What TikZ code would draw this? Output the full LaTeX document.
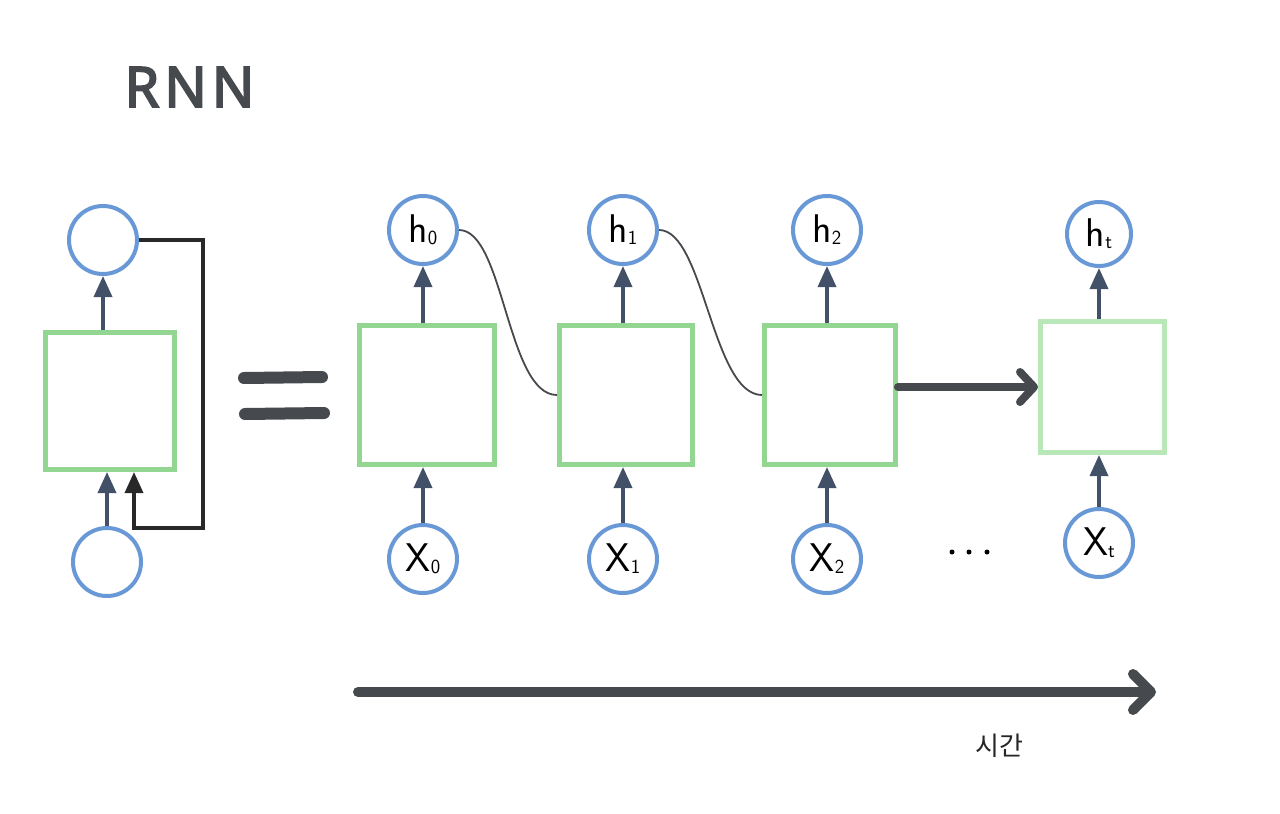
\documentclass[tikz,border=0pt]{standalone}
\usepackage{fontspec}
\setmainfont{Noto Sans}
\newfontfamily\titlefont{Noto Sans}[FakeBold=3]
\newfontfamily\kofont{Noto Sans CJK KR}
\usetikzlibrary{arrows.meta,calc}
\definecolor{boxgreen}{RGB}{146,214,146}
\definecolor{boxlight}{RGB}{184,232,184}
\definecolor{circblue}{RGB}{104,152,214}
\definecolor{arrslate}{RGB}{66,80,104}
\definecolor{inkgray}{RGB}{70,73,78}
\definecolor{fbblack}{RGB}{40,40,40}
\tikzset{
  cell/.style={draw=boxgreen, line width=5pt, rectangle, inner sep=0pt, fill=white},
  unit/.style={draw=circblue, line width=4pt, circle, inner sep=0pt, minimum size=68pt, fill=white,
     font=\sffamily\fontsize{40}{40}\selectfont, text=black},
  uparrow/.style={draw=arrslate, line width=3.5pt, -{Triangle[length=21pt,width=18pt]}},
  fbarrow/.style={draw=fbblack, line width=3.5pt, -{Triangle[length=21pt,width=18pt]}},
  curveline/.style={draw=inkgray, line width=1.8pt},
  eqbar/.style={draw=inkgray, line width=12pt, line cap=round},
  bigarrow/.style={draw=inkgray, line width=8pt, line cap=round, -{Straight Barb[length=14pt,width=30pt,round]}},
  timearrow/.style={draw=inkgray, line width=10pt, line cap=round, -{Straight Barb[length=18pt,width=36pt,round]}},
}
\newcommand{\sublab}[2]{#1\kern0pt\raisebox{-2pt}{\fontsize{20}{20}\selectfont #2}}
\begin{document}
\begin{tikzpicture}[x=1pt,y=-1pt]
\useasboundingbox[fill=white] (0,0) rectangle (1280,814);

% title
\node[anchor=base, text=inkgray, font=\titlefont\fontsize{56}{56}\selectfont, inner sep=0pt] (title) at (189.5,107) {R\kern5pt N\kern5pt N};

% left folded RNN
\node[cell, minimum width=129pt, minimum height=137pt] (L) at (110,401) {};
\node[unit] (Lh) at (103,240) {};
\node[unit] (Lx) at (107,562) {};
\draw[uparrow] (Lh.south |- L.north) -- (Lh.south);
\draw[uparrow] (Lx.north) -- (Lx.north |- L.south);
\coordinate (fbR) at (203,528);
\coordinate (fbIn) at (134,528);
\draw[fbarrow] (Lh.east) -| (fbR) -| (fbIn |- L.south);

% equals sign
\coordinate (e1a) at (244,378); \coordinate (e1b) at (322,377);
\coordinate (e2a) at (245,414); \coordinate (e2b) at (324,413);
\draw[eqbar] (e1a) -- (e1b);
\draw[eqbar] (e2a) -- (e2b);

% unrolled cells
\node[cell, minimum width=135pt, minimum height=139pt] (b0) at (427,395) {};
\node[cell, minimum width=133pt, minimum height=139pt] (b1) at (626,395) {};
\node[cell, minimum width=131pt, minimum height=139pt] (b2) at (830,395) {};
\node[cell, draw=boxlight, minimum width=124pt, minimum height=131pt] (bt) at (1102.5,387) {};

\node[unit] (h0) at (423,230) {\sublab{h}{0}};
\node[unit] (h1) at (623,230) {\sublab{h}{1}};
\node[unit] (h2) at (827,230) {\sublab{h}{2}};
\node[unit, minimum size=64pt] (ht) at (1099,234) {\sublab{h}{t}};
\node[unit] (x0) at (423,559) {\sublab{X}{0}};
\node[unit] (x1) at (623,559) {\sublab{X}{1}};
\node[unit] (x2) at (827,559) {\sublab{X}{2}};
\node[unit] (xt) at (1099,543) {\sublab{X}{t}};

\foreach \h/\b/\x in {h0/b0/x0, h1/b1/x1, h2/b2/x2, ht/bt/xt}{
  \draw[uparrow] (\h.south |- \b.north) -- (\h.south);
  \draw[uparrow] (\x.north) -- (\x.north |- \b.south);
}

% recurrent connections
\draw[curveline] (h0.east) .. controls +(45,0) and +(-50,0) .. (b1.west);
\draw[curveline] (h1.east) .. controls +(45,0) and +(-50,0) .. (b2.west);
\draw[bigarrow] (b2.east |- bt.west) -- (bt.west);

% dots
\node[circle, fill=black, inner sep=0pt, minimum size=5pt] (d1) at (952,552) {};
\node[circle, fill=black, inner sep=0pt, minimum size=5pt] (d2) at (969,552) {};
\node[circle, fill=black, inner sep=0pt, minimum size=5pt] (d3) at (987,552) {};

% time axis
\coordinate (t0) at (358,692);
\coordinate (t1) at (1156,692);
\draw[timearrow] (t0) -- (t1);
\node[font=\kofont\fontsize{26}{26}\selectfont, text=black!85] (time) at (999,746) {시간};
\end{tikzpicture}
\end{document}
